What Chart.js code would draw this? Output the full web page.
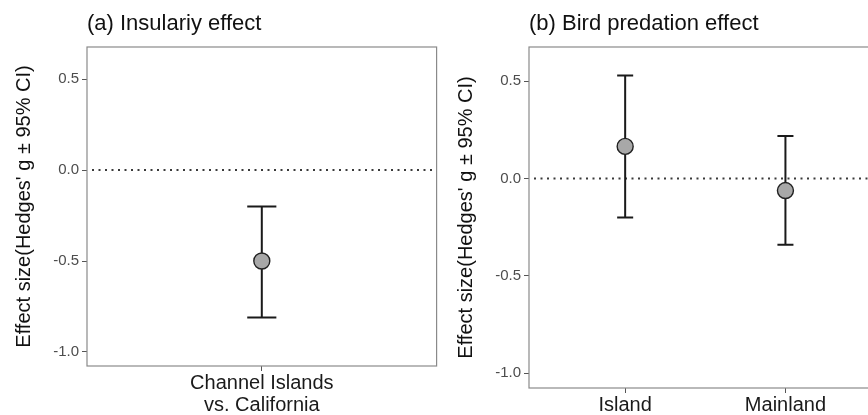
<!DOCTYPE html>
<html>
<head>
<meta charset="utf-8">
<script src="https://cdn.jsdelivr.net/npm/chart.js@4"></script>
<style>
  html, body { margin: 0; padding: 0; background: #fff; overflow: hidden; width: 868px; height: 415px; }
  canvas { position: absolute; top: 0; }
  #panelA { left: 0; }
  #panelB { left: 442px; }
</style>
</head>
<body>
<canvas id="panelA" width="446" height="415"></canvas>
<canvas id="panelB" width="449" height="415"></canvas>
<script>
// (a) Insularity effect
const insularityLabels = [['Channel Islands', 'vs. California']];
const insularityMean = [-0.50];
const insularityLow = [-0.81];
const insularityHigh = [-0.20];

// (b) Bird predation effect
const birdLabels = ['Island', 'Mainland'];
const birdMean = [0.165, -0.062];
const birdLow = [-0.20, -0.34];
const birdHigh = [0.53, 0.218];

const yTicks = [-1.0, -0.5, 0.0, 0.5];
const yMin = -1.077, yMax = 0.676;

const FONT = "'Liberation Sans', Arial, sans-serif";

// zero line, CI whiskers and panel border
const errorBars = {
    id: 'errorBars',
    beforeDatasetsDraw(chart) {
        const {ctx, chartArea, scales: {x, y}} = chart;
        ctx.save();
        // dotted reference line at 0
        const y0 = y.getPixelForValue(0);
        ctx.strokeStyle = '#3a3a3a';
        ctx.lineWidth = 2;
        ctx.setLineDash([2, 4.5]);
        ctx.beginPath();
        ctx.moveTo(chartArea.left + 5, y0);
        ctx.lineTo(chartArea.right, y0);
        ctx.stroke();
        ctx.setLineDash([]);

        // whiskers
        ctx.strokeStyle = '#1a1a1a';
        ctx.lineWidth = 2;
        chart.data.datasets[0].data.forEach(p => {
            const px = x.getPixelForValue(p.x);
            const half = x.getPixelForValue(p.x + 0.05) - px;
            const top = y.getPixelForValue(p.hi);
            const bot = y.getPixelForValue(p.lo);
            ctx.beginPath();
            ctx.moveTo(px, top); ctx.lineTo(px, bot);
            ctx.moveTo(px - half, top); ctx.lineTo(px + half, top);
            ctx.moveTo(px - half, bot); ctx.lineTo(px + half, bot);
            ctx.stroke();
        });
        ctx.restore();
    },
    afterDraw(chart) {
        const {ctx, chartArea} = chart;
        ctx.save();
        ctx.strokeStyle = '#8a8a8a';
        ctx.lineWidth = 1.2;
        ctx.strokeRect(chartArea.left, chartArea.top,
            chartArea.right - chartArea.left, chartArea.bottom - chartArea.top);
        ctx.restore();
    }
};

const makePanel = (id, title, labels, mean, low, high, xBottom, padRight) => {
    const ctx = document.getElementById(id);
    return new Chart(ctx, {
        type: 'scatter',
        data: {
            datasets: [{
                data: mean.map((m, i) => ({x: i + 1, y: m, lo: low[i], hi: high[i]})),
                pointRadius: 8,
                pointHoverRadius: 8,
                backgroundColor: '#a8a8a8',
                borderColor: '#222',
                borderWidth: 1.4
            }]
        },
        options: {
            responsive: false,
            animation: false,
            layout: { padding: { left: 0, right: padRight, top: 0, bottom: 0 } },
            plugins: {
                legend: { display: false },
                tooltip: { enabled: false },
                title: {
                    display: true,
                    text: title,
                    align: 'start',
                    fullSize: false,
                    color: '#111',
                    font: { family: FONT, size: 22, weight: 'normal' },
                    padding: { top: 11, bottom: 9.6 }
                }
            },
            scales: {
                x: {
                    type: 'linear',
                    min: 0.4,
                    max: labels.length + 0.6,
                    afterBuildTicks: (scale) => {
                        scale.ticks = labels.map((_, i) => ({value: i + 1}));
                    },
                    afterFit: (scale) => { scale.height = xBottom; },
                    grid: { drawOnChartArea: false, drawTicks: true, tickLength: 5, color: '#555' },
                    border: { display: false },
                    ticks: {
                        color: '#1a1a1a',
                        padding: 1,
                        maxRotation: 0,
                        autoSkip: false,
                        font: { family: FONT, size: 20, lineHeight: 1.1 },
                        callback: (v) => labels[Math.round(v) - 1]
                    }
                },
                y: {
                    min: yMin,
                    max: yMax,
                    afterBuildTicks: (scale) => {
                        scale.ticks = yTicks.map(v => ({value: v}));
                    },
                    afterFit: (scale) => { scale.width = 87; },
                    grid: { drawOnChartArea: false, drawTicks: true, tickLength: 5, color: '#555' },
                    border: { display: false },
                    ticks: {
                        color: '#4d4d4d',
                        padding: 3,
                        font: { family: FONT, size: 15 },
                        callback: (v) => v.toFixed(1)
                    },
                    title: {
                        display: true,
                        text: "Effect size(Hedges' g \u00b1 95% CI)",
                        color: '#111',
                        font: { family: FONT, size: 20 },
                        padding: { top: 12, bottom: 0 }
                    }
                }
            }
        },
        plugins: [errorBars]
    });
};

makePanel('panelA', '(a) Insulariy effect', insularityLabels, insularityMean, insularityLow, insularityHigh, 49, 3);
makePanel('panelB', '(b) Bird predation effect', birdLabels, birdMean, birdLow, birdHigh, 27, 1);
</script>
</body>
</html>
